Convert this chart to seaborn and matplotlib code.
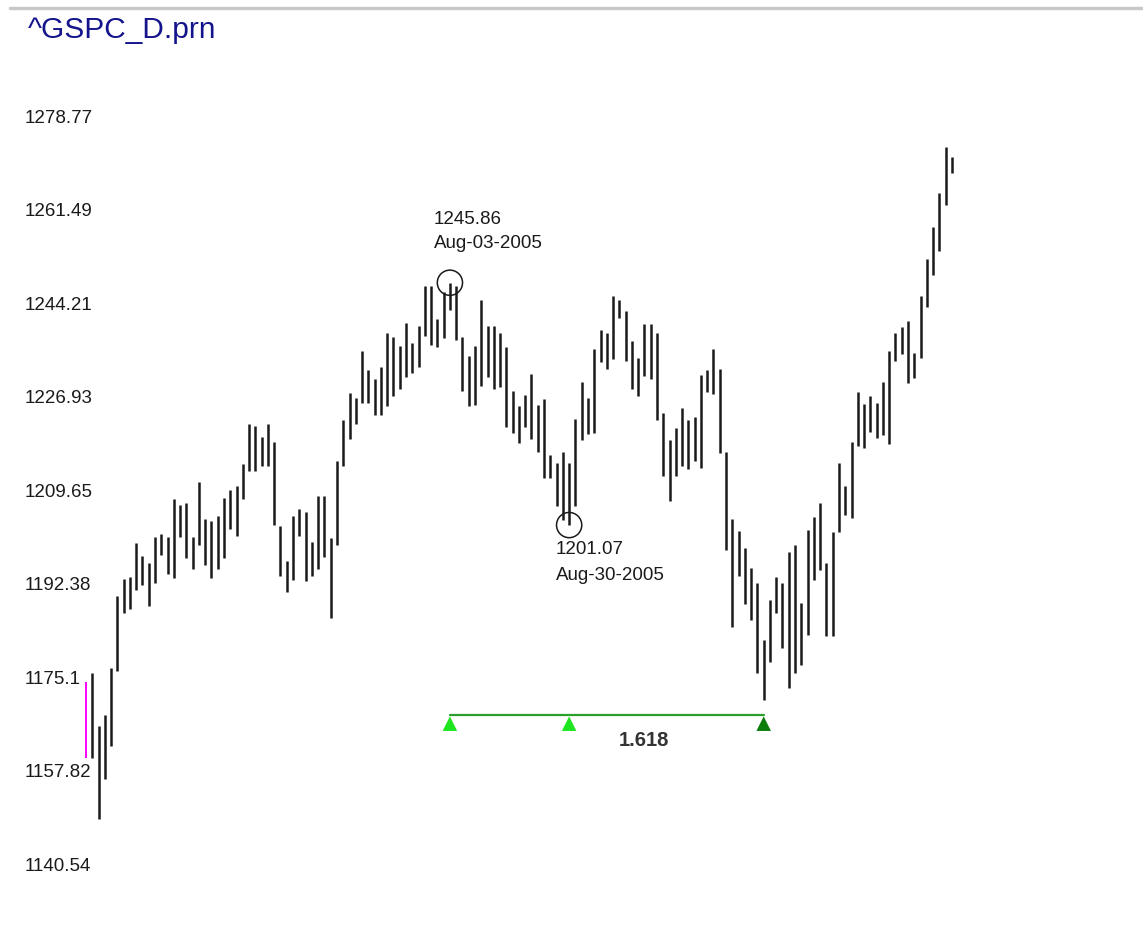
import pandas as pd
import matplotlib
matplotlib.use("Agg")
import matplotlib.pyplot as plt
import seaborn as sns
from matplotlib import transforms
from matplotlib.lines import Line2D

sns.set_style("white")
plt.rcParams['font.family'] = ['Liberation Sans', 'DejaVu Sans']

# daily high / low of ^GSPC (bar 0 is the magenta one)
highs = [1172.1, 1173.7, 1163.9, 1166.0, 1174.7, 1188.0, 1191.1, 1191.5, 1197.7, 1195.4,
         1194.1, 1198.9, 1199.5, 1198.9, 1205.8, 1204.8, 1205.1, 1198.9, 1209.0, 1202.2,
         1201.8, 1202.7, 1206.0, 1207.6, 1208.3, 1212.3, 1219.7, 1219.4, 1217.4, 1219.7,
         1216.5, 1200.9, 1194.4, 1202.8, 1204.1, 1203.5, 1198.0, 1206.4, 1206.4, 1198.7,
         1212.9, 1220.4, 1225.5, 1224.5, 1233.3, 1229.7, 1228.1, 1230.3, 1236.6, 1235.9,
         1234.2, 1238.5, 1234.7, 1237.9, 1245.3, 1245.3, 1239.2, 1244.2, 1245.86, 1245.3,
         1235.9, 1232.4, 1234.2, 1242.7, 1237.9, 1237.9, 1236.5, 1233.9, 1225.8, 1223.0,
         1225.2, 1229.0, 1223.3, 1224.3, 1214.0, 1212.6, 1214.5, 1212.6, 1220.7, 1227.5,
         1224.6, 1233.6, 1237.1, 1236.5, 1243.4, 1242.7, 1240.7, 1235.0, 1232.0, 1238.2,
         1238.2, 1236.5, 1221.7, 1216.8, 1219.1, 1222.7, 1220.4, 1221.0, 1228.8, 1229.7,
         1233.6, 1230.0, 1214.5, 1202.2, 1200.0, 1196.8, 1193.2, 1190.3, 1179.9, 1187.3,
         1191.5, 1190.3, 1196.1, 1197.4, 1186.7, 1200.2, 1202.6, 1205.2, 1194.0, 1199.7,
         1212.6, 1208.3, 1216.4, 1225.6, 1223.4, 1225.0, 1223.7, 1227.6, 1233.3, 1236.5,
         1237.7, 1238.7, 1232.9, 1243.5, 1250.2, 1256.2, 1262.4, 1271.0, 1269.1]
lows = [1158.0, 1158.0, 1146.7, 1154.1, 1160.2, 1174.1, 1184.9, 1185.5, 1189.1, 1190.0,
        1186.1, 1190.4, 1195.5, 1192.0, 1191.3, 1198.8, 1194.9, 1192.9, 1197.4, 1193.6,
        1191.3, 1192.9, 1194.9, 1200.4, 1199.0, 1205.9, 1211.1, 1211.1, 1212.0, 1212.0,
        1201.0, 1191.6, 1188.7, 1191.0, 1199.1, 1190.7, 1191.6, 1192.9, 1195.2, 1183.9,
        1197.4, 1212.0, 1216.9, 1219.7, 1223.7, 1223.7, 1221.4, 1221.4, 1223.1, 1224.9,
        1226.2, 1228.5, 1229.1, 1230.3, 1236.0, 1234.3, 1233.9, 1235.6, 1240.8, 1235.3,
        1225.9, 1223.1, 1223.3, 1226.8, 1228.5, 1226.2, 1226.5, 1219.2, 1218.1, 1216.2,
        1219.2, 1217.0, 1214.6, 1209.8, 1209.8, 1204.6, 1202.0, 1201.07, 1204.6, 1216.7,
        1217.9, 1218.0, 1231.2, 1229.9, 1231.7, 1239.3, 1231.4, 1226.2, 1225.0, 1228.7,
        1228.0, 1220.5, 1210.1, 1205.6, 1210.1, 1212.0, 1211.4, 1213.0, 1211.7, 1225.6,
        1225.3, 1214.3, 1196.5, 1182.3, 1191.6, 1186.5, 1183.6, 1173.8, 1168.7, 1175.8,
        1184.9, 1178.4, 1171.0, 1173.7, 1175.2, 1180.7, 1190.9, 1192.8, 1180.6, 1180.6,
        1199.7, 1202.9, 1202.3, 1215.7, 1215.4, 1218.3, 1217.1, 1217.7, 1216.1, 1231.4,
        1232.7, 1227.3, 1228.2, 1232.0, 1241.3, 1247.3, 1251.8, 1260.2, 1266.1]

tick_values = [1278.77, 1261.49, 1244.21, 1226.93, 1209.65, 1192.38, 1175.1, 1157.82, 1140.54]
tick_labels = ["1278.77", "1261.49", "1244.21", "1226.93", "1209.65", "1192.38", "1175.1",
               "1157.82", "1140.54"]

peak_bar, peak_price, peak_date = 58, 1245.86, "Aug-03-2005"
trough_bar, trough_price, trough_date = 77, 1201.07, "Aug-30-2005"
fib_bars = [58, 77, 108]
fib_kind = ["start", "start", "end"]
fib_ratio = "1.618"

df = pd.DataFrame({"bar": range(len(highs)), "high": highs, "low": lows})

fig = plt.figure(figsize=(11.43, 9.49), dpi=100)
ax = fig.add_axes([0, 0, 1, 1])

# price bars
ax.vlines(df.bar[1:], df.low[1:], df.high[1:], color="#1a1a1a", lw=1.8)
ax.vlines(df.bar[:1], df.low[:1], df.high[:1], color="#ff00ff", lw=1.4)

# swing high / low markers
ax.scatter([peak_bar, trough_bar], [peak_price, trough_price], s=330,
           facecolors="none", edgecolors="#1a1a1a", linewidths=1.1, zorder=3)
txt = dict(textcoords="offset points", ha="left", va="center", fontsize=13.5, color="#1a1a1a")
ax.annotate(f"{peak_price:.2f}", xy=(peak_bar, peak_price), xytext=(-11.5, 45.5), **txt)
ax.annotate(peak_date, xy=(peak_bar, peak_price), xytext=(-11.5, 28.2), **txt)
ax.annotate(f"{trough_price:.2f}", xy=(trough_bar, trough_price), xytext=(-9.4, -17.3), **txt)
ax.annotate(trough_date, xy=(trough_bar, trough_price), xytext=(-9.4, -36), **txt)

# fibonacci time tool
lvl = 1165.96
ax.plot([fib_bars[0], fib_bars[-1]], [lvl, lvl], color="#2aa02a", lw=1.6)
sns.scatterplot(x=fib_bars, y=[lvl - 1.6] * 3, hue=fib_kind,
                palette={"start": "#1ee61e", "end": "#0b7d0b"}, marker="^", s=110,
                edgecolor="none", legend=False, ax=ax, zorder=4)
ax.annotate(fib_ratio, xy=(fib_bars[1] + 0.382 * (fib_bars[2] - fib_bars[1]), lvl),
            xytext=(0, -18.7), textcoords="offset points", ha="center", va="center",
            fontsize=14.5, fontweight="bold", color="#333333")

ax.set_xlim(-13.70, 168.45)
ax.set_ylim(1122.71, 1298.12)
ax.set_xticks([])
ax.set_yticks(tick_values)
ax.set_yticklabels(tick_labels)
ax.tick_params(axis="y", length=0, pad=-18, labelsize=13.5, labelcolor="#1a1a1a")
shift = transforms.ScaledTranslation(0, -11.5 / 100, fig.dpi_scale_trans)
for lab in ax.get_yticklabels():
    lab.set_horizontalalignment("left")
    lab.set_transform(lab.get_transform() + shift)
for s in ax.spines.values():
    s.set_visible(False)

fig.add_artist(Line2D([10 / 1143, 1], [1 - 8 / 949] * 2, color="#c8c8c8", lw=2.5,
                      transform=fig.transFigure))
fig.text(28 / 1143, 1 - 30 / 949, "^GSPC_D.prn", color="#14148c", fontsize=21.5,
         ha="left", va="center")

fig.savefig("out.png", dpi=100)
